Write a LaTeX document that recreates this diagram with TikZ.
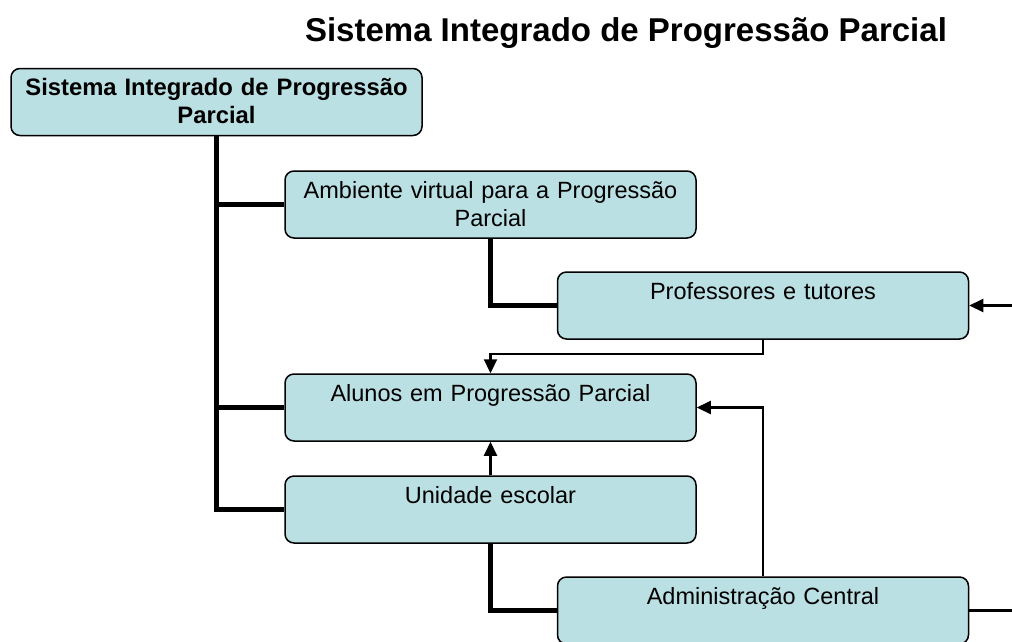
\documentclass[tikz,border=0pt]{standalone}
\usepackage{fontspec}
\setmainfont{Liberation Sans}
\usetikzlibrary{arrows.meta}
\definecolor{boxfill}{RGB}{187,224,227}
\newcommand{\tstrut}{\rule[-6.4pt]{0pt}{28pt}}

\begin{document}
\begin{tikzpicture}[x=1pt, y=-1pt,
	box/.style={draw, line width=1.5pt, fill=boxfill, rounded corners=9pt,
		minimum width=411pt, minimum height=67pt, text width=400pt, align=center,
		font=\fontsize{23.5}{28}\selectfont},
	trunk/.style={line width=4.5pt},
	link/.style={line width=2.2pt},
	arr/.style={link, -{Triangle[length=14pt,width=13pt]}}]

% Page size of the slide
\useasboundingbox (0,0) rectangle (1012,641);

% Title
\node[font=\fontsize{33}{40}\selectfont\bfseries] (title) at (626,33) {Sistema Integrado de Progressão Parcial};

% Boxes
\node[box, font=\fontsize{23.8}{28}\selectfont\bfseries] (root) at (216.5,102) {\tstrut Sistema Integrado de Progressão\\\tstrut Parcial};
\node[box] (amb) at (490.5,204.5) {\tstrut Ambiente virtual para a Progressão\\\tstrut Parcial};
\node[box] (prof) at (763,305.5) {\tstrut Professores e tutores\\\tstrut};
\node[box] (alun) at (490.5,407.5) {\tstrut Alunos em Progressão Parcial\\\tstrut};
\node[box] (unid) at (490.5,509.5) {\tstrut Unidade escolar\\\tstrut};
\node[box] (adm) at (763,610.5) {\tstrut Administração Central\\\tstrut};

% Free ends at the right border
\coordinate (rprof) at (1012,305.5);
\coordinate (radm) at (1012,610.5);
\coordinate (palun) at (490.5,354);

% Hierarchy (thick lines)
\draw[trunk] (root.south) |- (unid.west);
\foreach \n in {amb,alun} {
	\draw[trunk] (root.south |- \n.west) -- (\n.west);
}
\draw[trunk] (amb.south) |- (prof.west);
\draw[trunk] (unid.south) |- (adm.west);

% Flows (thin arrows)
\draw[arr] (prof.south) |- (palun) -- (alun.north);
\draw[arr] (unid.north) -- (alun.south);
\draw[arr] (adm.north) |- (alun.east);
\draw[arr] (rprof) -- (prof.east);
\draw[link] (adm.east) -- (radm);

\end{tikzpicture}
\end{document}
